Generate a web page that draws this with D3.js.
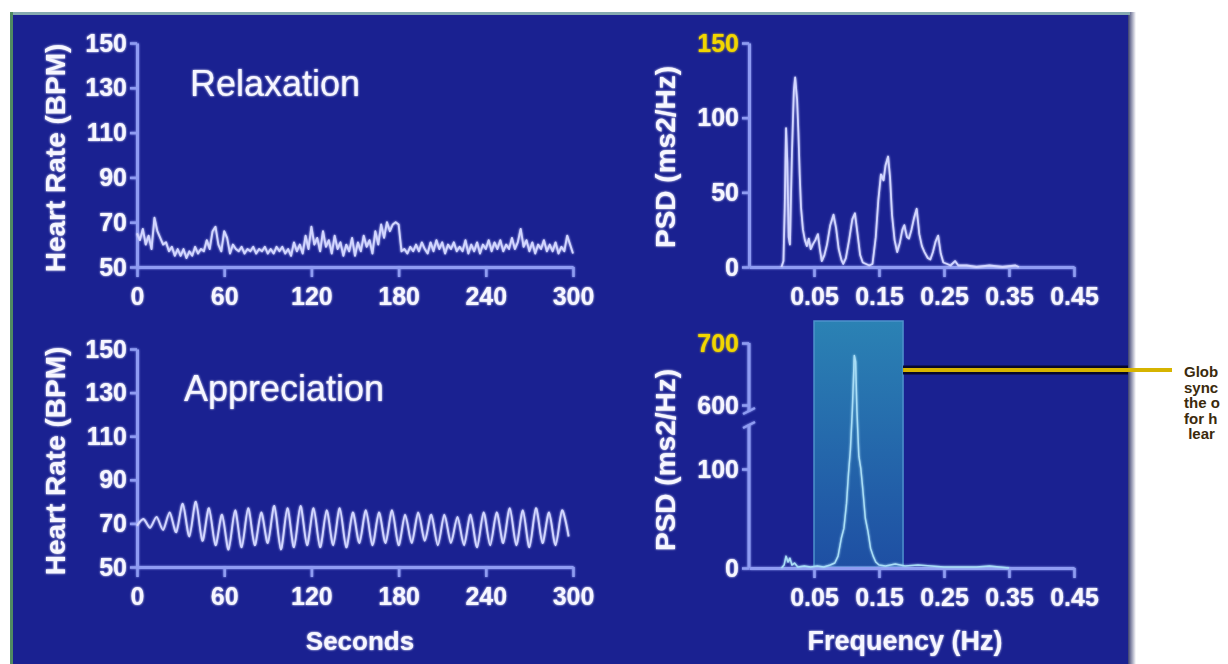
<!DOCTYPE html>
<html><head><meta charset="utf-8">
<script src="https://cdn.jsdelivr.net/npm/d3@7"></script>
<style>
html,body{margin:0;padding:0;background:#fff;overflow:hidden}
svg{display:block}
text{font-family:"Liberation Sans",Arial,Helvetica,sans-serif}
</style></head><body>
<svg id="chart" width="1228" height="664"></svg>
<script>
// ---------------- DATA ----------------
const hrTicks = [50, 70, 90, 110, 130, 150];
const secTicks = [0, 60, 120, 180, 240, 300];
const freqTicks = [0.05, 0.15, 0.25, 0.35, 0.45];
const psdTicksTop = [0, 50, 100, 150];
const psdTicksBottom = [0, 100, 600, 700];
const highlightBand = [0.05, 0.187];

const panelTitles = ["Relaxation", "Appreciation"];
const hrLabel = "Heart Rate (BPM)";
const psdLabel = "PSD (ms2/Hz)";
const secLabel = "Seconds";
const freqLabel = "Frequency (Hz)";
// the side note is cut by the right edge of the picture; only these parts are visible
const noteLines = ["Glob", "sync", "the o", "for h", " lear"];

// heart rate during relaxation, one sample every 2 s
const relaxStep = 2;
const relaxHR = [65,62,67,60,64,58,72,66,63,60,61,57,59,55,58,55,58,54,57,55,
  59,56,58,57,62,58,66,68,60,57,66,63,56,60,58,57,59,56,58,57,
  59,56,58,57,59,56,58,56,59,57,59,56,58,55,61,57,60,56,64,58,
  68,60,63,57,66,59,62,56,64,58,61,55,60,57,63,55,61,57,64,59,
  62,56,66,60,69,63,70,66,69,70,69,57,58,56,59,57,60,57,61,58,
  56,61,57,62,58,61,56,60,58,61,57,59,57,62,56,60,57,61,56,60,
  58,62,57,61,58,62,57,60,58,63,58,61,67,59,62,57,61,56,60,58,
  62,57,60,57,61,56,59,57,64,60,56];

// heart rate during appreciation, one sample every 4.5 s
const apprStep = 4.5;
const apprHR = [69,72,68,73,67,75,66,79,64,80,62,77,60,74,58,76,59,77,60,75,
  61,78,58,77,59,78,60,77,59,76,60,77,59,75,61,76,60,75,61,76,
  60,74,61,75,62,74,60,74,61,73,60,74,59,75,60,75,61,77,60,76,
  59,77,61,75,60,76,64];

// power spectral density [frequency Hz, ms2/Hz]
const psdRelaxation = [[0.000,0],[0.003,4],[0.005,40],[0.007,93],[0.009,70],[0.011,20],[0.013,15],
  [0.016,75],[0.019,118],[0.021,127],[0.024,112],[0.026,90],[0.028,62],[0.030,40],[0.033,25],
  [0.036,18],[0.039,14],[0.042,19],[0.045,12],[0.048,15],[0.052,18],[0.056,22],[0.059,12],
  [0.062,4],[0.066,8],[0.070,15],[0.075,28],[0.080,35],[0.084,26],[0.088,12],[0.092,5],
  [0.095,2],[0.099,6],[0.104,18],[0.109,32],[0.113,36],[0.117,22],[0.121,8],[0.125,3],
  [0.130,2],[0.135,1],[0.140,2],[0.145,20],[0.149,45],[0.153,62],[0.157,58],[0.160,68],
  [0.164,74],[0.167,60],[0.170,35],[0.174,18],[0.178,10],[0.182,16],[0.186,25],[0.189,28],
  [0.193,20],[0.196,19],[0.200,25],[0.204,33],[0.208,39],[0.212,22],[0.216,14],[0.220,10],
  [0.225,6],[0.229,5],[0.233,10],[0.237,17],[0.241,21],[0.245,9],[0.249,3],[0.255,2],
  [0.260,1],[0.267,4],[0.272,1],[0.285,1],[0.300,0],[0.320,1],[0.340,0],[0.360,1],[0.365,0]];

const psdAppreciation = [[0.000,0],[0.004,3],[0.007,12],[0.010,6],[0.013,10],[0.016,3],[0.020,5],
  [0.025,1],[0.035,2],[0.045,1],[0.055,2],[0.065,1],[0.075,3],[0.082,5],[0.087,12],[0.092,30],
  [0.096,40],[0.100,65],[0.103,95],[0.106,250],[0.109,560],[0.112,680],[0.114,670],[0.116,560],
  [0.119,200],[0.122,105],[0.125,80],[0.129,50],[0.133,37],[0.137,20],[0.141,12],[0.145,6],
  [0.150,3],[0.160,2],[0.175,4],[0.190,2],[0.210,3],[0.230,2],[0.250,1],[0.300,1],[0.320,2],
  [0.335,1],[0.350,0]];

// ---------------- DRAW ----------------
const svg = d3.select("#chart");
const axisColor = "#8f9cf2";
const lineColor = "#d2d6ff";
const textColor = "#f6f6ff";
const yellow = "#f2d600";
const tickFont = 25;

const defs = svg.append("defs");
const glow = defs.append("filter").attr("id", "glow").attr("filterUnits", "userSpaceOnUse")
  .attr("x", -3000).attr("y", -3000).attr("width", 6000).attr("height", 6000);
glow.append("feGaussianBlur").attr("in", "SourceGraphic").attr("stdDeviation", 1.3).attr("result", "b");
const gm = glow.append("feMerge");
gm.append("feMergeNode").attr("in", "b");
gm.append("feMergeNode").attr("in", "SourceGraphic");

const grad = defs.append("linearGradient").attr("id", "band").attr("x1", 0).attr("y1", 0).attr("x2", 0).attr("y2", 1);
grad.append("stop").attr("offset", "0%").attr("stop-color", "#2b82b4");
grad.append("stop").attr("offset", "100%").attr("stop-color", "#1e4fa3");

const edgeGrad = defs.append("linearGradient").attr("id", "edge").attr("x1", 0).attr("y1", 0).attr("x2", 1).attr("y2", 0);
edgeGrad.append("stop").attr("offset", "0%").attr("stop-color", "#3a3f70");
edgeGrad.append("stop").attr("offset", "100%").attr("stop-color", "#ffffff");

// panel
svg.append("rect").attr("x", 10).attr("y", 12).attr("width", 1120).attr("height", 660).attr("fill", "#1a2191");
svg.append("rect").attr("x", 1128).attr("y", 12).attr("width", 8).attr("height", 660).attr("fill", "url(#edge)");
svg.append("line").attr("x1", 10).attr("x2", 1130).attr("y1", 13.5).attr("y2", 13.5).attr("stroke", "#86aab0").attr("stroke-width", 3);
svg.append("line").attr("x1", 11.5).attr("x2", 11.5).attr("y1", 12).attr("y2", 664).attr("stroke", "#4f8a62").attr("stroke-width", 3);

function styleAxis(g, fontSize) {
  g.attr("font-family", null).attr("font-size", null);
  g.select(".domain").attr("stroke", axisColor).attr("stroke-width", 3).attr("filter", "url(#glow)");
  g.selectAll(".tick line").attr("stroke", axisColor).attr("stroke-width", 2.5).attr("filter", "url(#glow)");
  g.selectAll(".tick text").attr("fill", textColor).style("font-size", fontSize + "px")
    .style("font-weight", "bold").attr("filter", "url(#glow)");
}

function rotLabel(text, x, y) {
  svg.append("text").attr("transform", `translate(${x},${y}) rotate(-90)`)
    .attr("text-anchor", "middle").attr("dominant-baseline", "central")
    .attr("fill", textColor).style("font-size", "28px").style("font-weight", "bold")
    .attr("filter", "url(#glow)").text(text);
}

// ---- Heart-rate panels ----
const xSec = d3.scaleLinear().domain([0, 300]).range([137, 573]);
const hrPanels = [
  {top: 43, bottom: 267, data: relaxHR, step: relaxStep, title: panelTitles[0], tx: 190, ty: 96, curve: d3.curveLinear},
  {top: 349, bottom: 567, data: apprHR, step: apprStep, title: panelTitles[1], tx: 184, ty: 401, curve: d3.curveCardinal.tension(0.2)}
];
hrPanels.forEach((p, k) => {
  const y = d3.scaleLinear().domain([50, 150]).range([p.bottom, p.top]);
  const gy = svg.append("g").attr("transform", `translate(${xSec(0)},0)`)
    .call(d3.axisLeft(y).tickValues(hrTicks).tickSize(7).tickSizeOuter(0).tickPadding(3));
  styleAxis(gy, tickFont);
  const gx = svg.append("g").attr("transform", `translate(0,${p.bottom})`)
    .call(d3.axisBottom(xSec).tickValues(secTicks).tickSize(10).tickSizeOuter(0).tickPadding(5));
  styleAxis(gx, tickFont);
  gx.selectAll(".tick text").attr("dy", "0.93em");
  const line = d3.line().x((d, i) => xSec(i * p.step)).y(d => y(d)).curve(p.curve);
  svg.append("path").datum(p.data).attr("d", line).attr("fill", "none")
    .attr("stroke", lineColor).attr("stroke-width", 1.9).attr("stroke-linejoin", "round")
    .attr("filter", "url(#glow)");
  svg.append("text").attr("x", p.tx).attr("y", p.ty).attr("fill", textColor)
    .style("font-size", "36px").attr("filter", "url(#glow)").text(p.title);
  rotLabel(hrLabel, 55, (p.top + p.bottom) / 2 + 3);
});
svg.append("text").attr("x", 360).attr("y", 650).attr("text-anchor", "middle").attr("fill", textColor)
  .style("font-size", "26px").style("font-weight", "bold").attr("filter", "url(#glow)").text(secLabel);

// ---- PSD panels ----
const xF = d3.scaleLinear().domain([-0.05, 0.45]).range([749, 1074]);

// top PSD
{
  const y = d3.scaleLinear().domain([0, 150]).range([267, 43]);
  const gy = svg.append("g").attr("transform", `translate(${xF(-0.05)},0)`)
    .call(d3.axisLeft(y).tickValues(psdTicksTop).tickSize(7).tickSizeOuter(0).tickPadding(3));
  styleAxis(gy, tickFont);
  gy.selectAll(".tick text").filter(d => d === 150).attr("fill", yellow);
  const gx = svg.append("g").attr("transform", `translate(0,267)`)
    .call(d3.axisBottom(xF).tickValues(freqTicks).tickSize(10).tickSizeOuter(0).tickPadding(5).tickFormat(d3.format(".2f")));
  styleAxis(gx, tickFont);
  gx.selectAll(".tick text").attr("dy", "0.93em");
  const line = d3.line().x(d => xF(d[0])).y(d => y(d[1]));
  svg.append("path").datum(psdRelaxation).attr("d", line).attr("fill", "none")
    .attr("stroke", lineColor).attr("stroke-width", 1.8).attr("stroke-linejoin", "round")
    .attr("filter", "url(#glow)");
  rotLabel(psdLabel, 665, 157);
}

// bottom PSD (broken axis)
{
  const y = d3.scaleLinear().domain([0, 100, 600, 700]).range([568, 469, 405, 343]);
  // highlight band
  svg.append("rect").attr("x", xF(highlightBand[0])).attr("y", 321)
    .attr("width", xF(highlightBand[1]) - xF(highlightBand[0])).attr("height", 246)
    .attr("fill", "url(#band)").attr("stroke", "#4e92cc").attr("stroke-width", 1.5);
  // pointer line
  const bx = xF(highlightBand[1]);
  svg.append("line").attr("x1", bx).attr("x2", 1128).attr("y1", 370).attr("y2", 370)
    .attr("stroke", "#08082a").attr("stroke-width", 9);
  svg.append("line").attr("x1", bx).attr("x2", 1172).attr("y1", 370).attr("y2", 370)
    .attr("stroke", "#d6b400").attr("stroke-width", 4);

  const gy = svg.append("g").attr("transform", `translate(${xF(-0.05)},0)`)
    .call(d3.axisLeft(y).tickValues(psdTicksBottom).tickSize(7).tickSizeOuter(0).tickPadding(3));
  styleAxis(gy, tickFont);
  gy.select(".domain").remove();
  gy.selectAll(".tick text").filter(d => d === 700).attr("fill", yellow);
  const ax = xF(-0.05);
  const seg = [[343, 411], [425, 568]];
  seg.forEach(s => svg.append("line").attr("x1", ax).attr("x2", ax).attr("y1", s[0]).attr("y2", s[1])
    .attr("stroke", axisColor).attr("stroke-width", 3).attr("filter", "url(#glow)"));
  [411, 425].forEach(b => svg.append("path")
    .attr("d", `M${ax - 6},${b + 3} L${ax + 6},${b - 3}`)
    .attr("stroke", axisColor).attr("stroke-width", 2.5).attr("fill", "none").attr("filter", "url(#glow)"));

  const gx = svg.append("g").attr("transform", `translate(0,568)`)
    .call(d3.axisBottom(xF).tickValues(freqTicks).tickSize(10).tickSizeOuter(0).tickPadding(5).tickFormat(d3.format(".2f")));
  styleAxis(gx, tickFont);
  gx.selectAll(".tick text").attr("dy", "0.93em");
  const line = d3.line().x(d => xF(d[0])).y(d => y(d[1]));
  svg.append("path").datum(psdAppreciation).attr("d", line).attr("fill", "none")
    .attr("stroke", "#a9def6").attr("stroke-width", 1.5).attr("stroke-linejoin", "round")
    .attr("filter", "url(#glow)");
  rotLabel(psdLabel, 665, 460);
  svg.append("text").attr("x", 905).attr("y", 650).attr("text-anchor", "middle").attr("fill", textColor)
    .style("font-size", "27px").style("font-weight", "bold").attr("filter", "url(#glow)").text(freqLabel);
}

// side note (only the visible part of each line)
noteLines.forEach((t, i) => {
  svg.append("text").attr("x", 1184).attr("y", 377 + i * 15.5).attr("fill", "#3b2a0c")
    .style("font-size", "15px").style("font-weight", "bold").attr("xml:space", "preserve").text(t);
});
</script>
</body></html>
